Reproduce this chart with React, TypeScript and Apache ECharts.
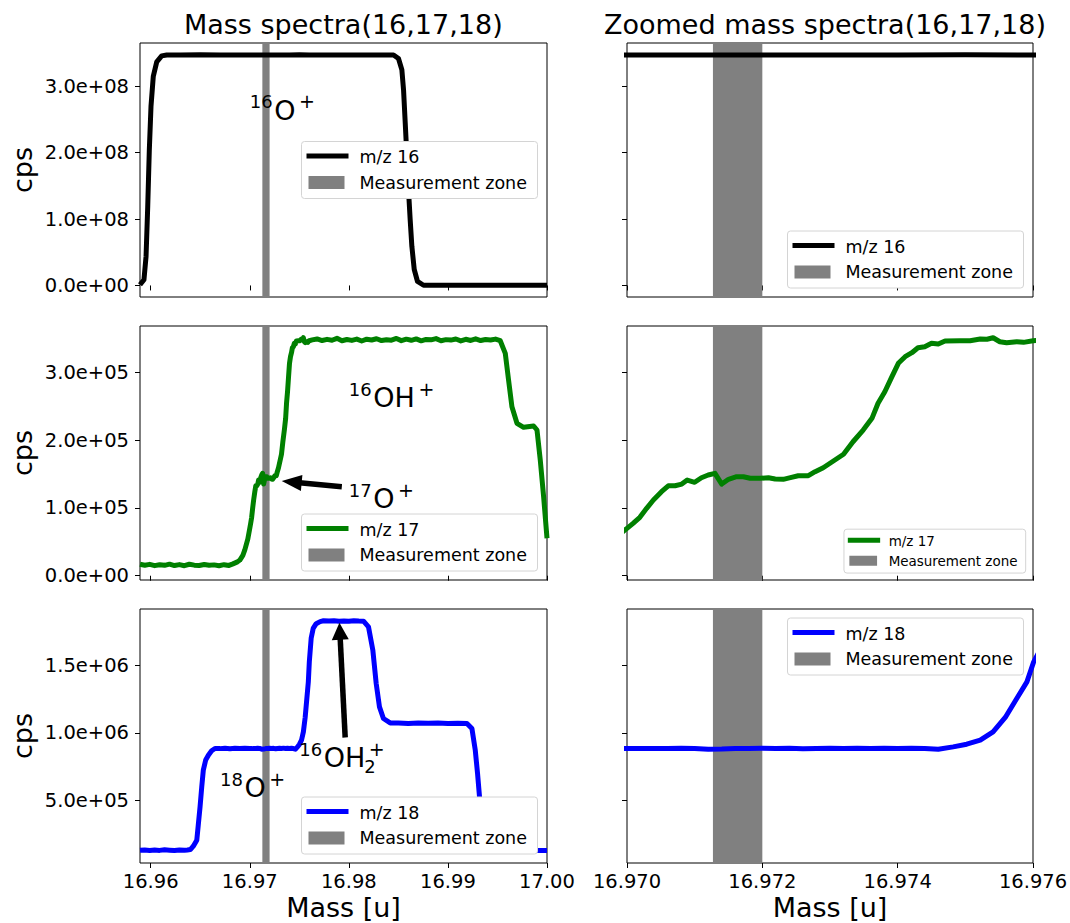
import React, { useEffect, useRef } from "react";
import * as echarts from "echarts";

// ---------------- data ----------------
const m16Mass = [
  16.95892, 16.95932, 16.95953, 16.9597, 16.95986, 16.96003, 16.96026, 16.96061, 16.96111, 16.96162,
  16.963, 16.965, 16.967, 16.969, 16.97, 16.971, 16.972, 16.973, 16.974, 16.975, 16.976, 16.978,
  16.98, 16.982, 16.98451, 16.98501, 16.98535, 16.98552, 16.98569, 16.98586, 16.98602, 16.98619,
  16.98636, 16.9866, 16.98693, 16.98754, 16.99, 16.995, 17.0,
];
const m16Cps = [
  1.0e6, 8.6e6, 4.37e7, 1.19e8, 2.04e8, 2.7e8, 3.15e8, 3.37e8, 3.46e8, 3.474e8,
  3.472e8, 3.476e8, 3.473e8, 3.475e8, 3.474e8, 3.472e8, 3.475e8, 3.473e8, 3.474e8, 3.476e8, 3.473e8, 3.474e8,
  3.472e8, 3.475e8, 3.473e8, 3.42e8, 3.25e8, 2.95e8, 2.45e8, 1.94e8, 1.44e8, 0.99e8,
  5.9e7, 2.4e7, 6.0e6, 0.3e6, 0.2e6, 0.3e6, 0.2e6,
];

const m17Mass = [
  16.95892, 16.9594, 16.9599, 16.9604, 16.9609, 16.9614, 16.9619, 16.9624, 16.9629, 16.9634,
  16.9639, 16.9644, 16.9649, 16.9654, 16.9659, 16.9664, 16.9669, 16.9674, 16.9679, 16.9683,
  16.9687, 16.969, 16.9693, 16.9695, 16.9698,
  16.97, 16.97009, 16.97019, 16.97029, 16.97039, 16.97051, 16.97061, 16.97071, 16.97081, 16.97089,
  16.971, 16.9711, 16.9712, 16.9713, 16.9714, 16.9715, 16.97162, 16.97172, 16.97182, 16.97197,
  16.97209, 16.97219, 16.97231, 16.97243, 16.97253, 16.97268, 16.97278, 16.9729, 16.97305, 16.9732,
  16.97334, 16.97349, 16.97362, 16.97371, 16.97381, 16.97391, 16.97401, 16.97411, 16.97421, 16.9743,
  16.9744, 16.9745, 16.9746, 16.9747, 16.97492, 16.97507, 16.97522, 16.97532, 16.97541, 16.97551,
  16.97561, 16.97576, 16.97586, 16.976,
  16.9763, 16.9768, 16.9773, 16.9778, 16.9783, 16.9788, 16.9793, 16.9798, 16.9803, 16.9808,
  16.9813, 16.9818, 16.9823, 16.9828, 16.9833, 16.9838, 16.9843, 16.9848, 16.9853, 16.9858,
  16.9863, 16.9868, 16.9873, 16.9878, 16.9883, 16.9888, 16.9893, 16.9898, 16.9903, 16.9908,
  16.9913, 16.9918, 16.9923, 16.9928, 16.9933, 16.9938, 16.9943, 16.9948, 16.99528,
  16.99579, 16.99612, 16.99646, 16.99697, 16.99764, 16.99865, 16.99899, 16.99932, 16.99966, 17.0,
];
const m17Cps = [
  17000, 15500, 16800, 14900, 16200, 15300, 17100, 15000, 16400, 14800,
  16900, 15600, 15100, 16600, 15400, 16000, 14700, 16300, 15200, 17500,
  20000, 23100, 30000, 38000, 54000,
  69900, 77300, 86100, 99400, 111700, 123900, 132700, 132700, 135200, 141100,
  137800, 144500, 148500, 151000, 135200, 142200, 146000, 146000, 143700, 143700,
  144500, 142600, 142200, 145100, 147500, 147500, 153400, 159300, 169200, 179100,
  197600, 214900, 232100, 254300, 271400, 292600, 313300, 323000, 328900, 336300,
  337800, 342800, 341700, 346200, 346600, 346600, 349100, 348700, 351000, 345100,
  343700, 345100, 344200, 346600,
  347800, 349200, 346900, 348600, 347300, 350100, 346500, 348400, 347100, 349000,
  346200, 348800, 347600, 349500, 346800, 348100, 347400, 350000, 346700, 348900,
  347200, 349300, 346400, 348500, 347900, 349700, 346600, 348200, 347500, 349100,
  346300, 348700, 347000, 349400, 346900, 348300, 347700, 349000, 346600,
  328000, 288600, 249300, 224800, 218900, 220800, 214900, 170600, 116500, 55200,
];

const m18Mass = [
  16.95892, 16.9594, 16.9599, 16.9604, 16.9609, 16.9614, 16.9619, 16.9624, 16.9629, 16.9634,
  16.9637, 16.964, 16.9643, 16.96465, 16.9648, 16.96498, 16.96515, 16.96531, 16.96555, 16.96582,
  16.96615, 16.96649, 16.967, 16.9675, 16.968, 16.9685, 16.969, 16.9695, 16.97,
  16.9702, 16.9704, 16.9706, 16.9708, 16.971, 16.9712, 16.9714, 16.9716, 16.9718, 16.972,
  16.9722, 16.9724, 16.9726, 16.9728, 16.973, 16.9732, 16.9734, 16.9736, 16.9738, 16.974,
  16.9742, 16.9744, 16.9746, 16.97482, 16.97502, 16.97522, 16.97541, 16.97559, 16.97576, 16.97591,
  16.97601, 16.9762, 16.9764, 16.9767, 16.9771, 16.97744, 16.978, 16.9785, 16.979, 16.9795,
  16.98, 16.9805, 16.981, 16.98148, 16.98198, 16.98242, 16.98276, 16.98309, 16.98349, 16.98417,
  16.985, 16.986, 16.987, 16.988, 16.989, 16.99, 16.991, 16.99192, 16.99242, 16.99276,
  16.99299, 16.99319, 16.9934, 16.99365, 16.9939, 16.9942, 16.995, 16.997, 16.999, 17.0,
];
const m18Cps = [
  135000, 137000, 133500, 136000, 134000, 138000, 135500, 133000, 136500, 134500,
  137000, 140000, 165000, 208700, 320000, 454000, 600000, 725000, 800000, 835000,
  868000, 885000, 884000, 887000, 883000, 886000, 884500, 887500, 885000,
  884000, 885500, 884500, 886000, 885000, 880000, 880500, 884000, 885000, 886000,
  884500, 886000, 883000, 885500, 887000, 885000, 887500, 885000, 886500, 885000,
  886000, 884500, 879800, 896700, 916700, 946200, 1007400, 1113600, 1253700, 1376100,
  1523600, 1700000, 1770000, 1805000, 1820000, 1826000, 1824000, 1827000, 1823000, 1825000,
  1822000, 1826000, 1824000, 1823000, 1781700, 1610000, 1364000, 1191700, 1106000, 1073700,
  1072000, 1069000, 1073500, 1070500, 1072500, 1068500, 1071500, 1069300, 1032400, 872400,
  700600, 528000, 360000, 220000, 150000, 137000, 135000, 136000, 134000, 134000,
];

const seriesNames = ["m/z 16", "m/z 17", "m/z 18"];
const seriesColors = ["#000000", "#008000", "#0000ff"];
const zoneLabel = "Measurement zone";
const zoneMass = [16.97127, 16.972];
const titles = ["Mass spectra(16,17,18)", "Zoomed mass spectra(16,17,18)"];
const xLabel = "Mass [u]";
const yLabel = "cps";

const leftXRange = [16.95892, 17.0];
const rightXRange = [16.97, 16.976];
const leftXTicks = [16.96, 16.97, 16.98, 16.99, 17.0];
const rightXTicks = [16.97, 16.972, 16.974, 16.976];
const yRanges = [
  [-1.74e7, 3.654e8],
  [-6300, 368300],
  [41000, 1913000],
];
const yTicks = [
  [0, 1e8, 2e8, 3e8],
  [0, 1e5, 2e5, 3e5],
  [5e5, 1e6, 1.5e6],
];

// annotations: anchor = left edge / baseline of the label, in data coords of the left panel of a row
const annotations = [
  { row: 0, mass: 16.97, cps: 2.5e8, sup: "16", main: "O", sub: "" },
  { row: 1, mass: 16.98, cps: 2.49e5, sup: "16", main: "OH", sub: "" },
  { row: 1, mass: 16.98, cps: 1.0e5, sup: "17", main: "O", sub: "" },
  { row: 2, mass: 16.975, cps: 7.5e5, sup: "16", main: "OH", sub: "2" },
  { row: 2, mass: 16.967, cps: 5.25e5, sup: "18", main: "O", sub: "" },
];
// arrows: tail -> centre of the head
const arrows = [
  { row: 1, from: [16.97929, 1.313e5], to: [16.97423, 1.382e5], head: [16, 20] },
  { row: 2, from: [16.97963, 0.966e6], to: [16.97909, 1.749e6], head: [17, 17] },
];

// ---------------- layout ----------------
const FONT = "'DejaVu Sans', sans-serif";
const GRID_LEFT = [140, 627];
const GRID_WIDTH = [407, 406];
const GRID_TOP = [43, 326, 609];
const GRID_HEIGHT = 254;
const TITLE_X = [343.3, 825];
const TICK_FONT = 19.5;
const legendPlaces = [
  [{ place: "center", scale: 1 }, { place: "lower", scale: 1 }],
  [{ place: "lower", scale: 1 }, { place: "lower", scale: 0.77 }],
  [{ place: "lower", scale: 1 }, { place: "upper", scale: 1 }],
];
const CENTRAL = 0.346; // DejaVu central baseline offset (em)

function sci(v: number): string {
  if (v === 0) return "0.0e+00";
  let e = Math.floor(Math.log10(Math.abs(v)));
  let m = v / Math.pow(10, e);
  if (Math.abs(m) >= 9.95) {
    m /= 10;
    e += 1;
  }
  return m.toFixed(1) + "e" + (e < 0 ? "-" : "+") + String(Math.abs(e)).padStart(2, "0");
}

const masses = [m16Mass, m17Mass, m18Mass];
const cpss = [m16Cps, m17Cps, m18Cps];

function buildOption() {
  const grid: any[] = [];
  const xAxis: any[] = [];
  const yAxis: any[] = [];
  const series: any[] = [];
  for (let r = 0; r < 3; r++) {
    for (let c = 0; c < 2; c++) {
      const i = r * 2 + c;
      grid.push({
        left: GRID_LEFT[c],
        top: GRID_TOP[r],
        width: GRID_WIDTH[c],
        height: GRID_HEIGHT,
        show: true,
        borderColor: "#000",
        borderWidth: 1,
        backgroundColor: "transparent",
        containLabel: false,
        outerBoundsMode: "none",
      });
      const xr = c === 0 ? leftXRange : rightXRange;
      const xt = c === 0 ? leftXTicks : rightXTicks;
      const digits = c === 0 ? 2 : 3;
      xAxis.push({
        type: "value",
        gridIndex: i,
        min: xr[0],
        max: xr[1],
        axisLine: { show: false },
        splitLine: { show: false },
        axisTick: { show: true, length: 5, lineStyle: { color: "#000", width: 1 }, customValues: xt },
        axisLabel: {
          show: r === 2,
          customValues: xt,
          formatter: (v: number) => v.toFixed(digits),
          fontSize: TICK_FONT,
          color: "#000",
          fontFamily: FONT,
          margin: 8,
        },
        name: r === 2 ? xLabel : "",
        nameLocation: "middle",
        nameGap: 31,
        nameTextStyle: { fontSize: 27, color: "#000", fontFamily: FONT },
      });
      yAxis.push({
        type: "value",
        gridIndex: i,
        min: yRanges[r][0],
        max: yRanges[r][1],
        axisLine: { show: false },
        splitLine: { show: false },
        axisTick: { show: true, length: 5, lineStyle: { color: "#000", width: 1 }, customValues: yTicks[r] },
        axisLabel: {
          show: c === 0,
          customValues: yTicks[r],
          formatter: (v: number) => sci(v),
          fontSize: TICK_FONT,
          color: "#000",
          fontFamily: FONT,
          margin: 11,
        },
        name: c === 0 ? yLabel : "",
        nameLocation: "middle",
        nameGap: 104,
        nameTextStyle: { fontSize: 27, color: "#000", fontFamily: FONT },
      });
      const data = masses[r].map((m, k) => [m, cpss[r][k]]);
      const rowArrows = c === 0 ? arrows.filter((a) => a.row === r) : [];
      series.push({
        type: "line",
        name: seriesNames[r],
        xAxisIndex: i,
        yAxisIndex: i,
        data,
        symbol: "none",
        showSymbol: false,
        silent: true,
        emphasis: { disabled: true },
        lineStyle: { color: seriesColors[r], width: 5, join: "round" },
        itemStyle: { color: seriesColors[r] },
        markArea: {
          silent: true,
          label: { show: false },
          itemStyle: { color: "#808080", opacity: 1 },
          data: [[{ xAxis: zoneMass[0] }, { xAxis: zoneMass[1] }]],
        },
        markLine: rowArrows.length
          ? {
              silent: true,
              symbol: ["none", "triangle"],
              label: { show: false },
              emphasis: { disabled: true },
              lineStyle: { color: "#000", width: 5.5, type: "solid" },
              data: rowArrows.map((a) => [
                { coord: a.from, symbol: "none" },
                { coord: a.to, symbol: "triangle", symbolSize: a.head },
              ]),
            }
          : undefined,
      });
    }
  }
  return {
    animation: false,
    backgroundColor: "#ffffff",
    textStyle: { fontFamily: FONT },
    title: titles.map((t, i) => ({
      text: t,
      left: TITLE_X[i],
      top: 10.5,
      textAlign: "center",
      padding: 0,
      textStyle: { fontSize: 27, fontWeight: "normal", color: "#000", fontFamily: FONT },
    })),
    grid,
    xAxis,
    yAxis,
    series,
  };
}

function legendElements(r: number, c: number) {
  const { place, scale } = legendPlaces[r][c];
  const w = 236 * scale;
  const h = 57 * scale;
  const right = GRID_LEFT[c] + GRID_WIDTH[c] - 9.5 * scale;
  let top: number;
  if (place === "center") top = GRID_TOP[r] + GRID_HEIGHT / 2 - h / 2;
  else if (place === "lower") top = GRID_TOP[r] + GRID_HEIGHT - 9 * scale - h;
  else top = GRID_TOP[r] + 9 * scale;
  const left = right - w;
  const fs = 17.5 * scale;
  const color = seriesColors[r];
  return [
    {
      type: "rect",
      silent: true,
      z: 100,
      shape: { x: left, y: top, width: w, height: h, r: 3 },
      style: { fill: "#ffffff", stroke: "#d4d4d4", lineWidth: 1 },
    },
    {
      type: "line",
      silent: true,
      z: 101,
      shape: { x1: left + 5 * scale, y1: top + 14.5 * scale, x2: left + 47 * scale, y2: top + 14.5 * scale },
      style: { stroke: color, lineWidth: 5 },
    },
    {
      type: "rect",
      silent: true,
      z: 101,
      shape: { x: left + 7 * scale, y: top + 34.5 * scale, width: 36 * scale, height: 13 * scale },
      style: { fill: "#808080" },
    },
    {
      type: "text",
      silent: true,
      z: 101,
      x: left + 58 * scale,
      y: top + 21.6 * scale - CENTRAL * fs,
      style: { text: seriesNames[r], fontSize: fs, fontFamily: FONT, fill: "#000", align: "left", verticalAlign: "middle" },
    },
    {
      type: "text",
      silent: true,
      z: 101,
      x: left + 58 * scale,
      y: top + 47.3 * scale - CENTRAL * fs,
      style: { text: zoneLabel, fontSize: fs, fontFamily: FONT, fill: "#000", align: "left", verticalAlign: "middle" },
    },
  ];
}

const GLYPH_W: Record<string, number> = { O: 0.787, H: 0.752 };

function annotationElement(a: (typeof annotations)[number], p: number[]) {
  const SUP = 18;
  const MAIN = 27;
  const mainDx = 24.5;
  const mainW = a.main.split("").reduce((s, ch) => s + (GLYPH_W[ch] || 0.7) * MAIN, 0);
  const parts = [
    { t: a.sup, dx: 0, base: -11.5, size: SUP },
    { t: a.main, dx: mainDx, base: 0, size: MAIN },
    { t: "+", dx: mainDx + mainW + 3.5, base: -11.5, size: SUP + 1 },
  ];
  if (a.sub) parts.push({ t: a.sub, dx: mainDx + mainW - 1, base: 6.3, size: SUP });
  return {
    type: "group",
    silent: true,
    x: p[0],
    y: p[1],
    children: parts.map((q) => ({
      type: "text",
      silent: true,
      z: 50,
      x: q.dx,
      y: q.base - CENTRAL * q.size,
      style: { text: q.t, fontSize: q.size, fontFamily: FONT, fill: "#000", align: "left", verticalAlign: "middle" },
    })),
  };
}

export default function App() {
  const ref = useRef<HTMLDivElement>(null);
  useEffect(() => {
    document.body.style.margin = "0";
    if (!ref.current) return;
    const chart = echarts.init(ref.current, null, { renderer: "svg" });
    chart.setOption(buildOption() as any);
    const graphics: any[] = [];
    for (let r = 0; r < 3; r++) for (let c = 0; c < 2; c++) graphics.push(...legendElements(r, c));
    annotations.forEach((a) => {
      const p = chart.convertToPixel({ gridIndex: a.row * 2 } as any, [a.mass, a.cps]) as number[];
      graphics.push(annotationElement(a, p));
    });
    chart.setOption({ graphic: graphics } as any);
    return () => chart.dispose();
  }, []);
  return <div ref={ref} style={{ width: 1070, height: 923 }} />;
}
